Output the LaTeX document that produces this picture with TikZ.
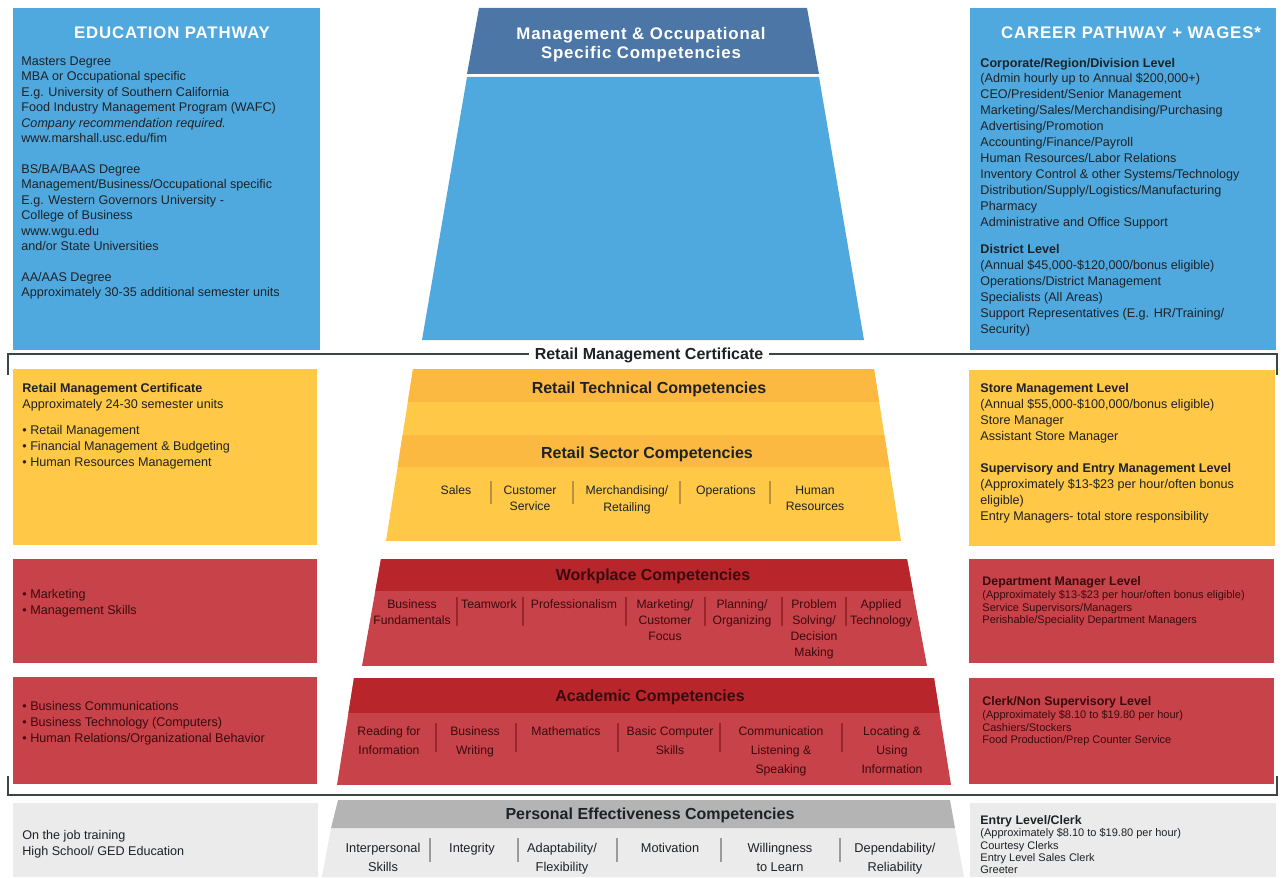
\documentclass[tikz,border=0pt]{standalone}
\usepackage{fontspec}
\setmainfont{Liberation Sans}
\newfontfamily\widefont[LetterSpace=5]{Liberation Sans}

\definecolor{skyblue}{HTML}{4FA9DE}
\definecolor{steelblue}{HTML}{4B76A5}
\definecolor{gold}{HTML}{FFC846}
\definecolor{darkgold}{HTML}{FBB941}
\definecolor{goldline}{HTML}{B8913E}
\definecolor{brick}{HTML}{C84249}
\definecolor{darkbrick}{HTML}{B8262B}
\definecolor{brickline}{HTML}{9A252B}
\definecolor{lightgrey}{HTML}{EBEBEB}
\definecolor{midgrey}{HTML}{B4B4B4}
\definecolor{greyline}{HTML}{9A9A9A}
\definecolor{framecol}{HTML}{3B4744}
\definecolor{ink}{HTML}{1E2226}
\definecolor{redink}{HTML}{3A0B0E}

\tikzset{
  boxtitle/.style={inner sep=0pt, text=white, font=\widefont\fontsize{8.4}{10}\selectfont\bfseries},
  boxtext/.style={anchor=north west, inner sep=0pt, align=left, text=ink,
    font=\fontsize{6.3}{8}\selectfont},
  smalltext/.style={boxtext, font=\fontsize{5.5}{6.2}\selectfont},
  smallhead/.style={boxtext, font=\fontsize{6.2}{7}\selectfont\bfseries},
  tiertitle/.style={anchor=base, inner sep=0pt, text=ink, font=\fontsize{8}{9.6}\selectfont\bfseries},
  tieritem/.style={anchor=north, inner sep=0pt, align=center, text=ink},
}

\begin{document}
\begin{tikzpicture}[x=0.5pt,y=-0.5pt]
\useasboundingbox (0,0) rectangle (1283,877);

% side columns
\fill[skyblue] (13,8) rectangle (320,350);
\fill[skyblue] (970,8) rectangle (1276,350);
\fill[gold] (13,369) rectangle (317,545);
\fill[gold] (969,370) rectangle (1275,546);
\fill[brick] (13,559) rectangle (317,663);
\fill[brick] (13,677) rectangle (317,784);
\fill[brick] (969,559) rectangle (1274,663);
\fill[brick] (969,678) rectangle (1274,784);
\fill[lightgrey] (13,803) rectangle (318,877);
\fill[lightgrey] (970,803) rectangle (1276,877);

% pyramid, top tier
\fill[steelblue] (479,8) -- (807,8) -- (819,74) -- (467,74) -- cycle;
\fill[skyblue] (467,77) -- (819,77) -- (864,340) -- (422,340) -- cycle;

% retail tiers
\begin{scope}
  \clip (413,369) -- (874,369) -- (901,541) -- (386,541) -- cycle;
  \fill[gold] (380,369) rectangle (910,541);
  \fill[darkgold] (380,369) rectangle (910,402);
  \fill[darkgold] (380,435) rectangle (910,467);
\end{scope}

% workplace tier
\begin{scope}
  \clip (381,559) -- (907,559) -- (927,666) -- (362,666) -- cycle;
  \fill[brick] (360,559) rectangle (930,666);
  \fill[darkbrick] (360,559) rectangle (930,591);
\end{scope}

% academic tier
\begin{scope}
  \clip (354,678) -- (934,678) -- (951,785) -- (337,785) -- cycle;
  \fill[brick] (330,678) rectangle (960,785);
  \fill[darkbrick] (330,678) rectangle (960,713);
\end{scope}

% personal tier
\fill[lightgrey] (331,828) -- (955,828) -- (964,877) -- (322,877) -- cycle;
\fill[midgrey] (338,800) -- (950,800) -- (955,828) -- (331,828) -- cycle;

% certificate bracket
\draw[framecol, line width=0.9pt] (8,375) -- (8,354) -- (1277,354) -- (1277,375);
\draw[framecol, line width=0.9pt] (8,776) -- (8,795) -- (1277,795) -- (1277,776);
\node[fill=white, inner xsep=3pt, inner ysep=1.5pt, anchor=base, text=ink,
  font=\fontsize{8}{9.6}\selectfont\bfseries] (cert) at (649,359.7) {Retail Management Certificate};

% titles
\node[boxtitle] (edutitle) at (172,33) {EDUCATION PATHWAY};
\node[boxtitle] (careertitle) at (1131,33) {CAREER PATHWAY + WAGES*};
\node[boxtitle, align=center, font=\widefont\fontsize{8.4}{9.5}\selectfont\bfseries] (mgmt) at (641,45)
  {Management \& Occupational\\Specific Competencies};

\node[tiertitle] (tech) at (649,393.7) {Retail Technical Competencies};
\node[tiertitle] (sector) at (647,458.7) {Retail Sector Competencies};
\node[tiertitle, text=redink] (workplace) at (653,580.7) {Workplace Competencies};
\node[tiertitle, text=redink] (academic) at (650,701.7) {Academic Competencies};
\node[tiertitle] (personal) at (650,819.7) {Personal Effectiveness Competencies};

% tier items
\foreach \x/\t [count=\i] in {456/Sales, 530/{Customer\\Service}, 627/{Merchandising/\\Retailing},
    726/Operations, 815/{Human\\Resources}}
  \node[tieritem, font=\fontsize{6.1}{8.25}\selectfont] (sector\i) at (\x,485.5) {\t};
\foreach \x in {491,573,680,770}
  \draw[goldline, line width=0.6pt] (\x,481) -- (\x,504);

\foreach \x/\t [count=\i] in {412/{Business\\Fundamentals}, 489/Teamwork, 574/Professionalism,
    665/{Marketing/\\Customer\\Focus}, 742/{Planning/\\Organizing},
    814/{Problem\\Solving/\\Decision\\Making}, 881/{Applied\\Technology}}
  \node[tieritem, text=redink, font=\fontsize{6.1}{8}\selectfont] (work\i) at (\x,599.6) {\t};
\foreach \x in {457,523,626,705,782,846}
  \draw[brickline, line width=0.6pt] (\x,597) -- (\x,626);

\foreach \x/\t [count=\i] in {389/{Reading for\\Information}, 475/{Business\\Writing}, 566/Mathematics,
    670/{Basic Computer\\Skills}, 781/{Communication\\Listening \&\\Speaking},
    892/{Locating \&\\Using\\Information}}
  \node[tieritem, text=redink, font=\fontsize{6.1}{9.5}\selectfont] (acad\i) at (\x,726.6) {\t};
\foreach \x in {436,516,618,720,842}
  \draw[brickline, line width=0.6pt] (\x,723) -- (\x,752);

\foreach \x/\t [count=\i] in {383/{Interpersonal\\Skills}, 472/Integrity, 562/{Adaptability/\\Flexibility},
    670/Motivation, 780/{Willingness\\to Learn}, 895/{Dependability/\\Reliability}}
  \node[tieritem, font=\fontsize{6.4}{9.5}\selectfont] (pers\i) at (\x,842.4) {\t};
\foreach \x in {430,518,617,721,840}
  \draw[greyline, line width=0.6pt] (\x,838) -- (\x,862);

% education column
\node[boxtext, font=\fontsize{6.3}{7.7}\selectfont] (edu) at (21,56.5) {Masters Degree\\
  MBA or Occupational specific\\
  E.g. University of Southern California\\
  Food Industry Management Program (WAFC)\\
  \textit{Company recommendation required.}\\
  www.marshall.usc.edu/fim\\[7.8pt]
  BS/BA/BAAS Degree\\
  Management/Business/Occupational specific\\
  E.g. Western Governors University -\\
  College of Business\\
  www.wgu.edu\\
  and/or State Universities\\[7.8pt]
  AA/AAS Degree\\
  Approximately 30-35 additional semester units};
\node[boxtext] (cert-left) at (22,382.5) {\textbf{Retail Management Certificate}\\
  Approximately 24-30 semester units\\[5pt]
  \textbullet\ Retail Management\\
  \textbullet\ Financial Management \& Budgeting\\
  \textbullet\ Human Resources Management};
\node[boxtext, text=redink] (work-left) at (22,588.5) {\textbullet\ Marketing\\
  \textbullet\ Management Skills};
\node[boxtext, text=redink] (acad-left) at (22,700.5) {\textbullet\ Business Communications\\
  \textbullet\ Business Technology (Computers)\\
  \textbullet\ Human Relations/Organizational Behavior};
\node[boxtext] (pers-left) at (22,829.5) {On the job training\\
  High School/ GED Education};

% career column
\node[boxtext, font=\fontsize{6.3}{7.95}\selectfont] (career) at (980,57.5) {\textbf{Corporate/Region/Division Level}\\
  (Admin hourly up to Annual \$200,000+)\\
  CEO/President/Senior Management\\
  Marketing/Sales/Merchandising/Purchasing\\
  Advertising/Promotion\\
  Accounting/Finance/Payroll\\
  Human Resources/Labor Relations\\
  Inventory Control \& other Systems/Technology\\
  Distribution/Supply/Logistics/Manufacturing\\
  Pharmacy\\
  Administrative and Office Support\\[6pt]
  \textbf{District Level}\\
  (Annual \$45,000-\$120,000/bonus eligible)\\
  Operations/District Management\\
  Specialists (All Areas)\\
  Support Representatives (E.g. HR/Training/\\
  Security)};
\node[boxtext] (store) at (980,382.5) {\textbf{Store Management Level}\\
  (Annual \$55,000-\$100,000/bonus eligible)\\
  Store Manager\\
  Assistant Store Manager\\[8pt]
  \textbf{Supervisory and Entry Management Level}\\
  (Approximately \$13-\$23 per hour/often bonus\\
  eligible)\\
  Entry Managers- total store responsibility};
\node[smallhead, text=redink] (dept-head) at (982,576.6) {Department Manager Level};
\node[smalltext, text=redink] (dept) at (982,590.1) {(Approximately \$13-\$23 per hour/often bonus eligible)\\
  Service Supervisors/Managers\\
  Perishable/Speciality Department Managers};
\node[smallhead, text=redink] (clerk-head) at (982,696.6) {Clerk/Non Supervisory Level};
\node[smalltext, text=redink] (clerk) at (982,710.1) {(Approximately \$8.10 to \$19.80 per hour)\\
  Cashiers/Stockers\\
  Food Production/Prep Counter Service};
\node[smallhead] (entry-head) at (980,815.5) {Entry Level/Clerk};
\node[smalltext] (entry) at (980,828.1) {(Approximately \$8.10 to \$19.80 per hour)\\
  Courtesy Clerks\\
  Entry Level Sales Clerk\\
  Greeter};
\end{tikzpicture}
\end{document}
